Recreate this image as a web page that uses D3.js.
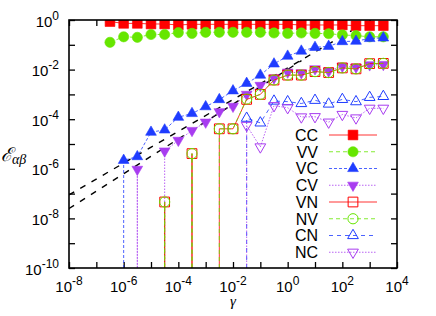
<!DOCTYPE html>
<html>
<head>
<meta charset="utf-8">
<script src="https://cdn.jsdelivr.net/npm/d3@7"></script>
<style>
  body { margin: 0; background: #fff; }
  svg { display: block; }
  text { font-family: "Liberation Sans", Arial, sans-serif; fill: #000; }
</style>
</head>
<body>
<svg id="chart" width="436" height="316"></svg>
<script>
//gamma values (half decades), 0 means the value is zero (off the log axis)
var gamma = [3.16e-7, 1e-6, 3.16e-6, 1e-5, 3.16e-5, 1e-4, 3.16e-4, 1e-3, 3.16e-3, 1e-2, 3.16e-2,
             1e-1, 3.16e-1, 1, 3.16, 10, 31.6, 100, 316, 1000, 3160];

var CC = [0.86, 0.73, 0.73, 0.69, 0.69, 0.63, 0.67, 0.67, 0.67, 0.67, 0.67,
          0.67, 0.67, 0.67, 0.63, 0.63, 0.63, 0.63, 0.59, 0.59, 0.59];
var VV = [0.126, 0.21, 0.20, 0.26, 0.26, 0.31, 0.29, 0.32, 0.32, 0.32, 0.32,
          0.32, 0.30, 0.29, 0.30, 0.29, 0.28, 0.25, 0.235, 0.21, 0.21];
var VC = [0, 2.2e-6, 3.1e-6, 3.0e-5, 3.7e-5, 1.2e-4, 1.7e-4, 3.2e-4, 6.2e-4, 1.4e-3, 2.8e-3,
          6.0e-3, 1.7e-2, 3.5e-2, 5.6e-2, 7.9e-2, 8.7e-2, 0.135, 0.14, 0.18, 0.19];
var CV = [0, 0, 9.5e-7, 0, 5.2e-6, 1.4e-5, 3.5e-5, 7.6e-5, 2.0e-4, 3.3e-4, 1.0e-3,
          2.3e-3, 4.6e-3, 7.9e-3, 7.4e-3, 1.07e-2, 8.7e-3, 1.35e-2, 1.26e-2, 1.55e-2, 1.6e-2];
var VN = [0, 0, 0, 0, 4.6e-8, 0, 4.1e-6, 0, 4.1e-5, 4.1e-5, 6.3e-4,
          1.0e-3, 3.8e-3, 6.0e-3, 6.0e-3, 8.3e-3, 7.6e-3, 1.17e-2, 1.07e-2, 1.74e-2, 1.78e-2];
var NV = [0, 0, 0, 0, 4.6e-8, 0, 4.1e-6, 0, 4.1e-5, 4.1e-5, 6.5e-4,
          1.0e-3, 3.8e-3, 6.0e-3, 6.0e-3, 8.3e-3, 7.6e-3, 1.17e-2, 1.07e-2, 1.74e-2, 1.78e-2];
var CN = [0, 0, 0, 0, 0, 0, 0, 0, 0, 0, 1.1e-4,
          7.1e-5, 5.4e-4, 5.1e-4, 4.3e-4, 5.8e-4, 4.1e-4, 6.3e-4, 5.1e-4, 7.6e-4, 8.3e-4];
var NC = [0, 0, 0, 0, 0, 0, 0, 0, 0, 0, 5.6e-5,
          7.6e-6, 3.5e-4, 2.9e-4, 1.23e-4, 1.26e-4, 7.6e-5, 1.55e-4, 1.12e-4, 2.75e-4, 2.75e-4];

//power-law guide lines (end points)
var guideUpperX = [1e-8, 2.2e2];
var guideUpperY = [8.9e-8, 3.7e-1];
var guideLowerX = [1e-8, 3.2];
var guideLowerY = [2.5e-8, 2.3e-2];

//tick exponents
var xDecades = [-8, -7, -6, -5, -4, -3, -2, -1, 0, 1, 2, 3, 4];
var xLabelExp = [-8, -6, -4, -2, 0, 2, 4];
var yDecades = [-10, -9, -8, -7, -6, -5, -4, -3, -2, -1, 0];
var yLabelExp = [-10, -8, -6, -4, -2, 0];

var red = "#ff0000", green = "#66e600", blue = "#1f3cff", purple = "#a83cf0";
var series = [
  {name: "CC", values: CC, color: red,    dash: null,      shape: "square",   filled: true},
  {name: "VV", values: VV, color: green,  dash: "4,3",     shape: "circle",   filled: true},
  {name: "VC", values: VC, color: blue,   dash: "3,2",     shape: "triangle", filled: true},
  {name: "CV", values: CV, color: purple, dash: "1.5,1.5", shape: "down",     filled: true},
  {name: "VN", values: VN, color: red,    dash: null,      shape: "square",   filled: false},
  {name: "NV", values: NV, color: green,  dash: "4,3",     shape: "circle",   filled: false},
  {name: "CN", values: CN, color: blue,   dash: "4,4",     shape: "triangle", filled: false},
  {name: "NC", values: NC, color: purple, dash: "1.5,1.5", shape: "down",     filled: false}
];

var margin = {top: 20, right: 39, bottom: 48, left: 69},
    width = 436 - margin.left - margin.right,
    height = 316 - margin.top - margin.bottom;

var svg = d3.select("#chart");
var g = svg.append("g").attr("transform", "translate(" + margin.left + "," + margin.top + ")");

//Set the ranges
var x = d3.scaleLog().domain([1e-8, 1e4]).range([0, width]);
var y = d3.scaleLog().domain([1e-10, 1]).range([height, 0]);

g.append("clipPath").attr("id", "clip")
  .append("rect").attr("width", width).attr("height", height);

//Ticks on all four sides, pointing inward
var xt = xDecades.map(function(e) { return Math.pow(10, e); });
var yt = yDecades.map(function(e) { return Math.pow(10, e); });
function styleAxis(sel) {
  sel.select(".domain").remove();
  sel.selectAll("line").attr("stroke", "#000").attr("stroke-width", 1.3);
}
g.append("g").attr("transform", "translate(0," + height + ")")
  .call(d3.axisBottom(x).tickValues(xt).tickSize(-6).tickFormat("")).call(styleAxis);
g.append("g")
  .call(d3.axisTop(x).tickValues(xt).tickSize(-6).tickFormat("")).call(styleAxis);
g.append("g")
  .call(d3.axisLeft(y).tickValues(yt).tickSize(-6).tickFormat("")).call(styleAxis);
g.append("g").attr("transform", "translate(" + width + ",0)")
  .call(d3.axisRight(y).tickValues(yt).tickSize(-6).tickFormat("")).call(styleAxis);

//Tick labels with superscripts
xLabelExp.forEach(function(e) {
  var t = g.append("text").attr("x", x(Math.pow(10, e))).attr("y", height + 23.5)
    .attr("text-anchor", "middle").style("font-size", "15px").text("10");
  t.append("tspan").attr("dy", -7).style("font-size", "12px").text(e);
});
yLabelExp.forEach(function(e) {
  var t = g.append("text").attr("x", -10).attr("y", y(Math.pow(10, e)) + 6.5)
    .attr("text-anchor", "end").style("font-size", "15px").text("10");
  t.append("tspan").attr("dy", -7).style("font-size", "12px").text(e);
});

//Axis titles
svg.append("text").attr("x", margin.left + width / 2).attr("y", 306)
  .attr("text-anchor", "middle")
  .style("font-family", "'Liberation Serif', serif").style("font-style", "italic")
  .style("font-size", "15px").text("\u03b3");
var yl = svg.append("text").attr("x", 1).attr("y", 161)
  .style("font-family", "'DejaVu Serif', serif").style("font-style", "italic")
  .style("font-size", "19px").text("\u2130");
yl.append("tspan").attr("dy", 3).style("font-size", "14px")
  .style("font-family", "'Liberation Serif', serif").text("\u03b1\u03b2");

//Break each series into pieces; points next to a zero drop down to the bottom
function pieces(vals) {
  var out = [], cur = [];
  vals.forEach(function(v, i) {
    if (v > 0) {
      if (cur.length == 0 && i > 0) cur.push([gamma[i], 1e-10]);
      cur.push([gamma[i], v]);
    } else if (cur.length) {
      cur.push([cur[cur.length - 1][0], 1e-10]);
      out.push(cur);
      cur = [];
    }
  });
  if (cur.length) out.push(cur);
  return out;
}

var line = d3.line()
  .x(function(d) { return x(d[0]); })
  .y(function(d) { return y(d[1]); });

var symbolType = {square: d3.symbolSquare, circle: d3.symbolCircle, triangle: d3.symbolTriangle, down: d3.symbolTriangle};
var symbolSize = {square: 95, circle: 82, triangle: 50, down: 50};
function marker(sel, s) {
  sel.attr("d", d3.symbol().type(symbolType[s.shape]).size(symbolSize[s.shape]))
    .attr("fill", s.filled ? s.color : "none")
    .attr("stroke", s.color)
    .attr("stroke-width", s.filled ? 0.6 : 1);
}

var plot = g.append("g").attr("clip-path", "url(#clip)");

//Guide lines
[[guideUpperX, guideUpperY], [guideLowerX, guideLowerY]].forEach(function(gl) {
  plot.append("path")
    .datum(gl[0].map(function(v, i) { return [v, gl[1][i]]; }))
    .attr("d", line).attr("fill", "none")
    .attr("stroke", "#000").attr("stroke-width", 1.4).attr("stroke-dasharray", "6,7");
});

//Lines and markers
series.forEach(function(s) {
  pieces(s.values).forEach(function(p) {
    plot.append("path").datum(p).attr("d", line)
      .attr("fill", "none").attr("stroke", s.color).attr("stroke-width", 1)
      .attr("stroke-opacity", 0.8)
      .attr("stroke-dasharray", s.dash);
  });
  var pts = gamma.map(function(gv, i) { return [gv, s.values[i]]; })
    .filter(function(d) { return d[1] > 0; });
  plot.selectAll(null).data(pts).enter().append("path")
    .attr("transform", function(d) {
      return "translate(" + x(d[0]) + "," + y(d[1]) + ")" + (s.shape == "down" ? " rotate(180)" : "");
    })
    .call(marker, s);
});

//Frame
g.append("rect").attr("width", width).attr("height", height)
  .attr("fill", "none").attr("stroke", "#000").attr("stroke-width", 1.6);

//Legend
var legend = g.append("g").attr("transform", "translate(" + (318 - margin.left) + "," + (135 - margin.top) + ")");
series.forEach(function(s, i) {
  var row = legend.append("g").attr("transform", "translate(0," + (i * 16.75) + ")");
  row.append("text").attr("x", 0).attr("y", 5.8).attr("text-anchor", "end")
    .style("font-size", "16px").text(s.name);
  row.append("line").attr("x1", 11).attr("x2", 59).attr("y1", 0).attr("y2", 0)
    .attr("stroke", s.color).attr("stroke-width", 1).attr("stroke-opacity", 0.8)
    .attr("stroke-dasharray", s.dash);
  row.append("path").attr("transform", "translate(35,0)" + (s.shape == "down" ? " rotate(180)" : ""))
    .call(marker, s);
});
</script>
</body>
</html>
